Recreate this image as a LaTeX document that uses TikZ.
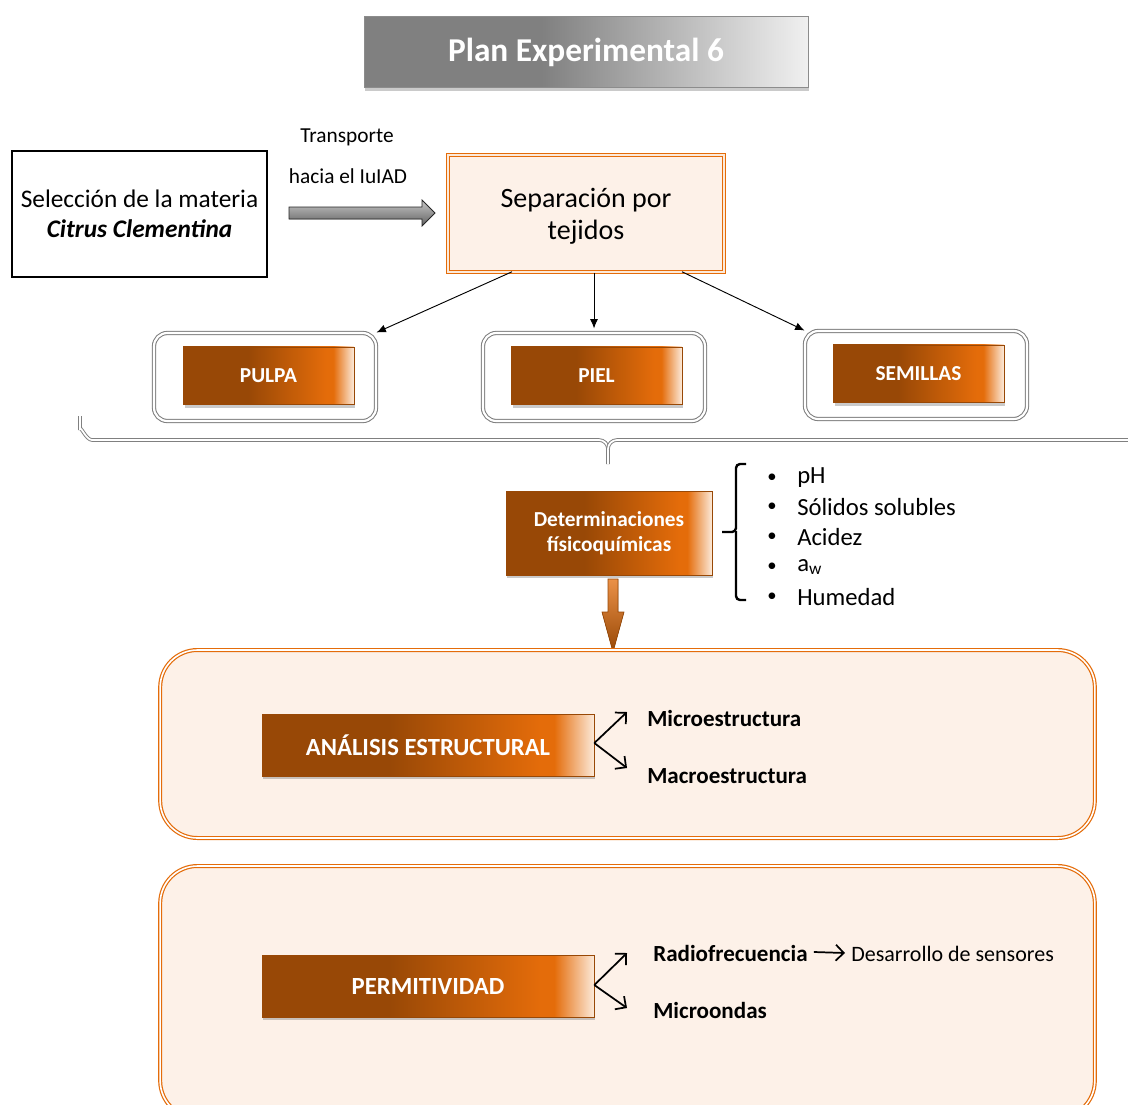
\documentclass[tikz,border=0pt]{standalone}
\usepackage{fontspec}
\setmainfont{Carlito}
\usetikzlibrary{arrows.meta,shadows,calc}

\definecolor{obrown}{RGB}{152,72,6}
\definecolor{oorange}{RGB}{228,108,10}
\definecolor{olight}{RGB}{252,234,218}
\definecolor{peach}{RGB}{253,241,232}
\definecolor{tdark}{RGB}{128,128,128}
\definecolor{tlight}{RGB}{240,240,240}
\definecolor{gline}{RGB}{128,128,128}

% brown -> orange -> pale, left to right (path spans 25bp..75bp)
\pgfdeclarehorizontalshading{barshade}{100bp}{color(0bp)=(obrown); color(25bp)=(obrown); color(44bp)=(obrown); color(67bp)=(oorange); color(69bp)=(oorange); color(75bp)=(olight); color(100bp)=(olight)}
% grey title band
\pgfdeclarehorizontalshading{titleshade}{100bp}{color(0bp)=(tdark); color(25bp)=(tdark); color(45bp)=(tdark); color(75bp)=(tlight); color(100bp)=(tlight)}

\tikzset{
  softshadow/.style={drop shadow={shadow xshift=1pt, shadow yshift=-2.5pt, opacity=0.35, fill=black!60}},
  bar/.style={shading=barshade, draw=obrown, line width=0.5pt, text=white, softshadow,
    inner sep=0pt, align=center},
  holder/.style={draw=gline, double=white, double distance=1.6pt, line width=0.8pt,
    rounded corners=10pt, inner sep=0pt},
  panel/.style={draw=oorange, double=white, double distance=1.2pt, line width=0.9pt,
    fill=peach, rounded corners=28pt, inner sep=0pt},
  plain/.style={inner sep=0pt, anchor=west},
  thinarrow/.style={-{Latex[length=7pt,width=6pt]}, line width=0.7pt},
  forkarrow/.style={-{Straight Barb[length=6pt,width=12pt]}, line width=1.3pt},
  bullet/.style={inner sep=0pt, font=\fontsize{14}{17}\selectfont},
}

\begin{document}
\begin{tikzpicture}[x=0.75pt,y=-0.75pt]
\useasboundingbox (0,0) rectangle (1128,1104);
\clip (0,0) rectangle (1128,1104);

% title band
\node[shading=titleshade, draw=black!45, line width=0.4pt, softshadow, text=white,
  minimum width=333pt, minimum height=53.25pt, inner sep=0pt,
  font=\fontsize{25}{30}\bfseries\selectfont] (title) at (586,52) {\raisebox{-1.5pt}{Plan Experimental 6}};

% raw material and separation
\node[draw=black, line width=1.5pt, minimum width=191pt, minimum height=95pt, inner sep=0pt,
  align=center, font=\fontsize{19}{22.5}\selectfont] (sel) at (139.5,214)
  {Selección de la materia\\\textbf{\textit{Citrus Clementina}}};

\node[draw=oorange, double=olight, double distance=1.2pt, line width=0.9pt, fill=peach,
  minimum width=207pt, minimum height=88pt, inner sep=0pt] (sep) at (586,213.5) {};
\node[inner sep=0pt, align=center, font=\fontsize{21}{24}\selectfont] (septext)
  at ($(sep.center)+(0,3)$) {Separación por\\tejidos};

\node[inner sep=0pt, font=\fontsize{16}{19}\selectfont] (tr1) at (347,137) {Transporte};
\node[inner sep=0pt, font=\fontsize{16}{19}\selectfont] (tr2) at (348,176) {hacia el IuIAD};

% shaded transport arrow
\coordinate (ga) at (289,213);
\coordinate (gb) at (435,213);
\filldraw[top color=black!22, bottom color=black!62, draw=black!85, line width=0.6pt]
  ($(ga)+(0,-6)$) -- ($(gb)+(-13,-6)$) -- ($(gb)+(-13,-13)$) -- (gb)
  -- ($(gb)+(-13,13)$) -- ($(gb)+(-13,6)$) -- ($(ga)+(0,6)$) -- cycle;

% tissue fractions
\node[holder, minimum width=166.5pt, minimum height=66pt] (hpulpa) at (265,377) {};
\node[holder, minimum width=166.5pt, minimum height=66pt] (hpiel) at (594,377) {};
\node[holder, minimum width=166.5pt, minimum height=66pt] (hsem) at (916,375) {};

\node[bar, minimum width=128pt, minimum height=43pt, font=\fontsize{16}{19}\bfseries\selectfont]
  (pulpa) at (268.5,375.5) {PULPA};
\node[bar, minimum width=128pt, minimum height=43pt, font=\fontsize{16}{19}\bfseries\selectfont]
  (piel) at (596.5,375.5) {PIEL};
\node[bar, minimum width=128pt, minimum height=43pt, font=\fontsize{16}{19}\bfseries\selectfont]
  (sem) at (918.5,373.5) {SEMILLAS};

\draw[thinarrow] ($(sep.south)+(-74,-1)$) -- (hpulpa.north east);
\draw[thinarrow] ($(sep.south)+(8,0)$) -- ($(hpiel.north)+(0,-4)$);
\draw[thinarrow] ($(sep.south)+(96,-1)$) -- (hsem.north west);

% wide grey brace gathering the three fractions
\draw[draw=gline, double=white, double distance=1.3pt, line width=0.7pt]
  (80,416) -- (80,430) to[out=90,in=180] (92,440) -- (599,440)
  to[out=0,in=90] (608,449) -- (608,464);
\draw[draw=gline, double=white, double distance=1.3pt, line width=0.7pt]
  (608,449) to[out=90,in=180] (617,440) -- (1140,440);

% physicochemical determinations
\node[bar, minimum width=154.5pt, minimum height=63pt, font=\fontsize{16}{19}\bfseries\selectfont]
  (det) at (609,533) {Determinaciones\\físicoquímicas};

\draw[line width=1.8pt, rounded corners=3pt]
  (746,464) -- (736,464) -- (736,532) -- (722,532);
\draw[line width=1.8pt, rounded corners=3pt]
  (736,531) -- (736,600) -- (746,600);

\foreach \yy/\txt/\nm in {478/pH/i1, 507/Sólidos solubles/i2, 537/Acidez/i3,
    567/a\textsubscript{w}/i4, 597/Humedad/i5}{
  \node[bullet] (b\nm) at (772,\yy) {•};
  \node[plain, font=\fontsize{18.5}{22}\selectfont] (\nm) at (797,\yy) {\txt};
}

% downward orange arrow
\coordinate (da) at (613,579);
\coordinate (db) at (613,652);
\filldraw[top color=oorange!75!white, bottom color=obrown, draw=obrown, line width=0.5pt]
  ($(da)+(-5,0)$) -- ($(da)+(5,0)$) -- ($(db)+(5,-40)$) -- ($(db)+(11,-40)$) -- (db)
  -- ($(db)+(-11,-40)$) -- ($(db)+(-5,-40)$) -- cycle;

% structural analysis panel
\node[panel, minimum width=701pt, minimum height=141pt] (p1) at (627.5,744) {};
\node[bar, minimum width=249pt, minimum height=46.5pt, font=\fontsize{18.5}{22}\bfseries\selectfont]
  (ana) at (428,745) {ANÁLISIS ESTRUCTURAL};
\node[plain, font=\fontsize{17.3}{20}\bfseries\selectfont] (micro) at (647,718) {Microestructura};
\node[plain, font=\fontsize{17.3}{20}\bfseries\selectfont] (macro) at (647,776) {Macroestructura};
\coordinate (af) at ($(ana.east)+(0,-2)$);
\draw[forkarrow] (af) -- ($(micro.west)+(-20,-6)$);
\draw[forkarrow] (af) -- ($(macro.west)+(-20,-8)$);

% permittivity panel
\node[panel, minimum width=701pt, minimum height=189pt] (p2) at (627.5,992) {};
\node[bar, minimum width=249pt, minimum height=46.5pt, font=\fontsize{18.5}{22}\bfseries\selectfont]
  (perm) at (428,986) {PERMITIVIDAD};
\node[plain, font=\fontsize{17.3}{20}\bfseries\selectfont] (radio) at (653,953) {Radiofrecuencia};
\node[plain, font=\fontsize{17.3}{20}\bfseries\selectfont] (micw) at (653,1010) {Microondas};
\node[plain, font=\fontsize{16.5}{20}\selectfont] (sens) at (851,954) {Desarrollo de sensores};
\coordinate (pf) at ($(perm.east)+(0,-1)$);
\draw[forkarrow] (pf) -- ($(radio.west)+(-26,0)$);
\draw[forkarrow] (pf) -- ($(micw.west)+(-26,-2)$);
\draw[forkarrow] ($(radio.east)+(6,-1)$) -- ($(sens.west)+(-6,-1)$);
\end{tikzpicture}
\end{document}
